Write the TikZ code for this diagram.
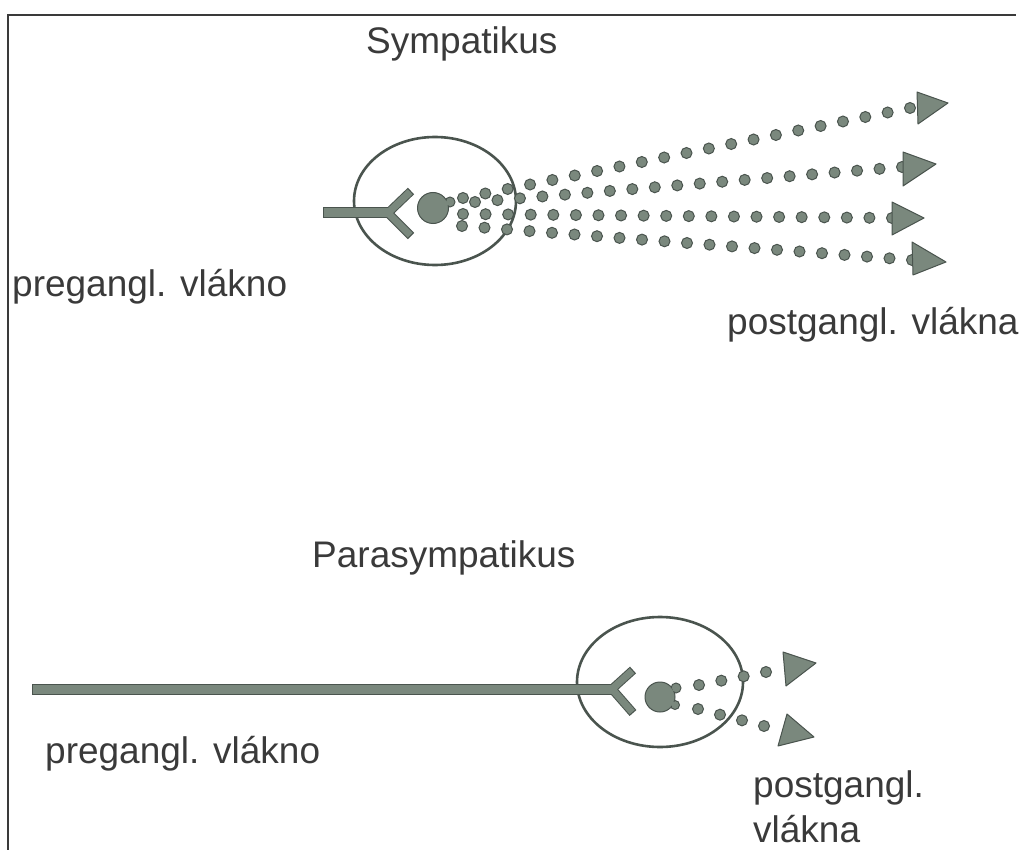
\documentclass[tikz,border=0pt]{standalone}
\usepackage{fontspec}
\setmainfont{Liberation Sans}
\usetikzlibrary{calc}
\definecolor{cellgreen}{RGB}{122,136,125}
\definecolor{celledge}{RGB}{74,84,78}
\definecolor{inkgray}{RGB}{58,58,58}

\tikzset{
  lbl/.style={font=\fontsize{37}{45}\selectfont, text=inkgray, inner sep=0pt, anchor=base west},
  membrane/.style={draw=celledge, line width=2.6pt},
  vesicle/.style={fill=cellgreen, draw=celledge, line width=1pt},
  fiberedge/.style={draw=celledge, line join=miter},
  fibercore/.style={draw=cellgreen, line join=miter, shorten <=1.2pt, shorten >=1.2pt},
  tiphead/.style={fill=cellgreen, draw=celledge, line width=1pt, line join=round},
}

\begin{document}
\begin{tikzpicture}[x=1pt, y=-1pt]
\useasboundingbox (0,0) rectangle (1019,850);

% rámeček
\coordinate (frameTL) at (8,15);
\draw[inkgray, line width=1.8pt] (8,850) -- (frameTL) -- (1016,15);

% popisky
\node[lbl] (symTitle) at (366,54) {Sympatikus};
\node[lbl] (symPre) at (12,296) {pregangl. vlákno};
\node[lbl] (symPost) at (727,334) {postgangl. vlákna};
\node[lbl] (paraTitle) at (312,567) {Parasympatikus};
\node[lbl] (paraPre) at (45,763) {pregangl. vlákno};
\node[lbl] (paraPostA) at (753,797) {postgangl.};
\node[lbl] (paraPostB) at (753,842) {vlákna};

% sympatikus -- ganglion
\coordinate (sGang) at (435,201);
\draw[membrane] (sGang) ellipse (81 and 64);

% pregangl. vlákno se synapsí
\coordinate (sPre) at (323,213);
\coordinate (sFork) at (388,213);
\coordinate (sBranchA) at (411,191);
\coordinate (sBranchB) at (411,236);
\draw[fiberedge, line width=11pt] (sPre) -- (sFork);
\draw[fiberedge, line width=9pt] (sBranchA) -- (sFork) -- (sBranchB);
\draw[fibercore, line width=7pt] (sBranchA) -- (sFork) -- (sBranchB);
\draw[fibercore, line width=9pt, shorten >=0pt] (sPre) -- (sFork);

% neuron
\coordinate (sNuc) at (433,208);
\draw[vesicle] (450,202) circle (5);
\draw[vesicle] (sNuc) circle (15.5);
\fill[cellgreen] (450,202) circle (4);

% postgangl. vlákna (tečky)
\coordinate (sA1) at (463,198); \coordinate (sZ1) at (910,108);
\coordinate (sA2) at (475,202); \coordinate (sZ2) at (902,167);
\coordinate (sA3) at (463,214); \coordinate (sZ3) at (892,218);
\coordinate (sA4) at (462,226); \coordinate (sZ4) at (912,260);
\foreach \s/\e/\n in {sA1/sZ1/20, sA2/sZ2/19, sA3/sZ3/19, sA4/sZ4/20} {
  \foreach \i in {0,...,\n}
    \draw[vesicle] ($(\s)!\i/\n!(\e)$) circle (5.5);
}
\draw[tiphead] (917,92) -- (948,103) -- (918,124) -- cycle;
\draw[tiphead] (903,152) -- (936,164) -- (903,186) -- cycle;
\draw[tiphead] (892,202) -- (924,218) -- (892,235) -- cycle;
\draw[tiphead] (912,242) -- (946,262) -- (913,275) -- cycle;

% parasympatikus -- ganglion
\coordinate (pGang) at (660,682);
\draw[membrane] (pGang) ellipse (83 and 65);

% dlouhé pregangl. vlákno
\coordinate (pPre) at (32,689);
\coordinate (pFork) at (612,689);
\coordinate (pBranchA) at (633,670);
\coordinate (pBranchB) at (633,713);
\draw[fiberedge, line width=11pt] (pPre) -- (pFork);
\draw[fiberedge, line width=9pt] (pBranchA) -- (pFork) -- (pBranchB);
\draw[fibercore, line width=7pt] (pBranchA) -- (pFork) -- (pBranchB);
\draw[fibercore, line width=9pt, shorten >=0pt] (pPre) -- (pFork);

% neuron
\coordinate (pNuc) at (660,697);
\draw[vesicle] (676,688) circle (5);
\draw[vesicle] (675,705) circle (4.5);
\draw[vesicle] (pNuc) circle (15);
\fill[cellgreen] (676,688) circle (4);
\fill[cellgreen] (675,705) circle (3.5);

% postgangl. vlákna (tečky)
\coordinate (pA1) at (699,685); \coordinate (pZ1) at (766,672);
\coordinate (pA2) at (698,709); \coordinate (pZ2) at (764,726);
\foreach \s/\e in {pA1/pZ1, pA2/pZ2} {
  \foreach \i in {0,...,3}
    \draw[vesicle] ($(\s)!\i/3!(\e)$) circle (5.5);
}
\draw[tiphead] (783,652) -- (816,663) -- (786,686) -- cycle;
\draw[tiphead] (787,714) -- (814,737) -- (778,746) -- cycle;

\end{tikzpicture}
\end{document}
